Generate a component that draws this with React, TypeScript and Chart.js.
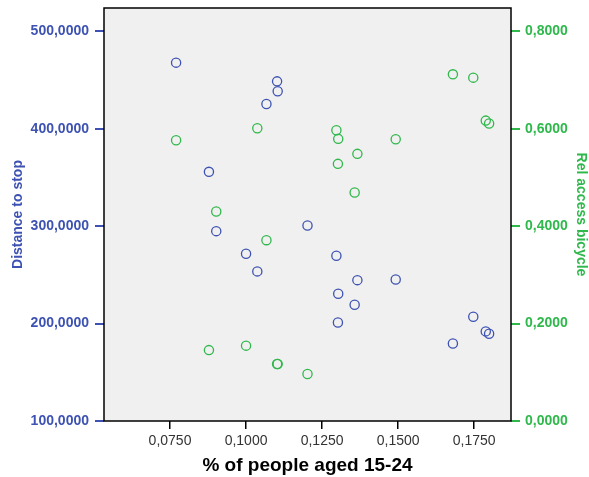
import React, { useEffect, useRef } from "react";
import { Chart, registerables } from "chart.js";

Chart.register(...registerables);

const pctAged15to24 = [0.077, 0.1102, 0.1104, 0.1067, 0.0878, 0.0902, 0.1, 0.1037, 0.1202, 0.1297, 0.1366, 0.1492, 0.1303, 0.1357, 0.1302, 0.1747, 0.1788, 0.1799, 0.168];
const distanceToStop = [467.9, 448.7, 438.5, 425.5, 355.8, 294.9, 271.7, 253.6, 300.7, 269.6, 244.6, 245.3, 230.7, 219.4, 201.2, 207.1, 192.0, 189.6, 179.5];
const relAccessBicycle = [0.5764, 0.1169, 0.1169, 0.3713, 0.1456, 0.4302, 0.1547, 0.601, 0.0964, 0.597, 0.5485, 0.5785, 0.5793, 0.4691, 0.528, 0.705, 0.6168, 0.6107, 0.7118];

const xTicks = [0.075, 0.1, 0.125, 0.15, 0.175];
const leftTicks = [100, 200, 300, 400, 500];
const rightTicks = [0, 0.2, 0.4, 0.6, 0.8];

const BLUE = "#3d52b2";
const GREEN = "#2fb84b";

const fmt = (v: number) => v.toFixed(4).replace(".", ",");

const bgPlugin = {
  id: "plotBg",
  beforeDraw(chart: any) {
    const { ctx, chartArea } = chart;
    ctx.save();
    ctx.fillStyle = "#f0f0f0";
    ctx.fillRect(chartArea.left, chartArea.top, chartArea.right - chartArea.left, chartArea.bottom - chartArea.top);
    ctx.restore();
  },
  afterDatasetsDraw(chart: any) {
    const { ctx, chartArea } = chart;
    ctx.save();
    ctx.strokeStyle = "#000";
    ctx.lineWidth = 1.5;
    ctx.strokeRect(chartArea.left, chartArea.top, chartArea.right - chartArea.left, chartArea.bottom - chartArea.top);
    ctx.restore();
  },
};

const noPad = (s: any) => {
  s.paddingTop = 0;
  s.paddingBottom = 0;
  s.paddingLeft = 0;
  s.paddingRight = 0;
};

export default function App() {
  const ref = useRef<HTMLCanvasElement>(null);
  useEffect(() => {
    document.body.style.margin = "0";
    const blueData = pctAged15to24.map((x, i) => ({ x, y: distanceToStop[i] }));
    const greenData = pctAged15to24.map((x, i) => ({ x, y: relAccessBicycle[i] }));
    const chart = new Chart(ref.current!, {
      type: "scatter",
      data: {
        datasets: [
          {
            label: "Distance to stop",
            data: blueData,
            yAxisID: "y",
            borderColor: BLUE,
            backgroundColor: "rgba(0,0,0,0)",
            pointRadius: 4.6,
            borderWidth: 1.3,
          },
          {
            label: "Rel access bicycle",
            data: greenData,
            yAxisID: "y1",
            borderColor: GREEN,
            backgroundColor: "rgba(0,0,0,0)",
            pointRadius: 4.6,
            borderWidth: 1.3,
          },
        ],
      },
      options: {
        responsive: false,
        animation: false,
        layout: { padding: { top: 8, left: 0, right: 0, bottom: 0 } },
        plugins: { legend: { display: false }, tooltip: { enabled: false } },
        scales: {
          x: {
            type: "linear",
            min: 0.0533,
            max: 0.1871,
            afterBuildTicks: (s: any) => { s.ticks = xTicks.map((v) => ({ value: v })); },
            afterFit: (s: any) => { s.height = 56; noPad(s); },
            grid: { display: true, drawOnChartArea: false, drawTicks: true, tickLength: 8, color: "#000", lineWidth: 1.5 },
            border: { display: false },
            ticks: { color: "#333", font: { family: "Liberation Sans, Arial", size: 14 }, padding: 4, callback: (v: any) => fmt(Number(v)), maxRotation: 0 },
            title: { display: true, text: "% of people aged 15-24", color: "#000", font: { family: "Liberation Sans, Arial", size: 19, weight: "bold" }, padding: { top: 0, bottom: 0 } },
          },
          y: {
            type: "linear",
            position: "left",
            min: 100,
            max: 524,
            afterBuildTicks: (s: any) => { s.ticks = leftTicks.map((v) => ({ value: v })); },
            afterFit: (s: any) => { s.width = 104; noPad(s); },
            grid: { display: true, drawOnChartArea: false, drawTicks: true, tickLength: 9, color: BLUE, lineWidth: 2 },
            border: { display: false },
            ticks: { color: BLUE, font: { family: "Liberation Sans, Arial", size: 14, weight: "bold" }, padding: 6, callback: (v: any) => fmt(Number(v)) },
            title: { display: true, text: "Distance to stop", color: BLUE, font: { family: "Liberation Sans, Arial", size: 14, weight: "bold" }, padding: { top: 10, bottom: 0 } },
          },
          y1: {
            type: "linear",
            position: "right",
            min: 0,
            max: 0.848,
            afterBuildTicks: (s: any) => { s.ticks = rightTicks.map((v) => ({ value: v })); },
            afterFit: (s: any) => { s.width = 78; noPad(s); },
            grid: { display: true, drawOnChartArea: false, drawTicks: true, tickLength: 9, color: GREEN, lineWidth: 2 },
            border: { display: false },
            ticks: { color: GREEN, font: { family: "Liberation Sans, Arial", size: 14, weight: "bold" }, padding: 5, callback: (v: any) => fmt(Number(v)) },
            title: { display: true, text: "Rel access bicycle", color: GREEN, font: { family: "Liberation Sans, Arial", size: 14, weight: "bold" }, padding: { top: 0, bottom: 0 } },
          },
        },
      },
      plugins: [bgPlugin],
    } as any);
    return () => chart.destroy();
  }, []);
  return <canvas ref={ref} width={589} height={477} style={{ display: "block" }} />;
}
